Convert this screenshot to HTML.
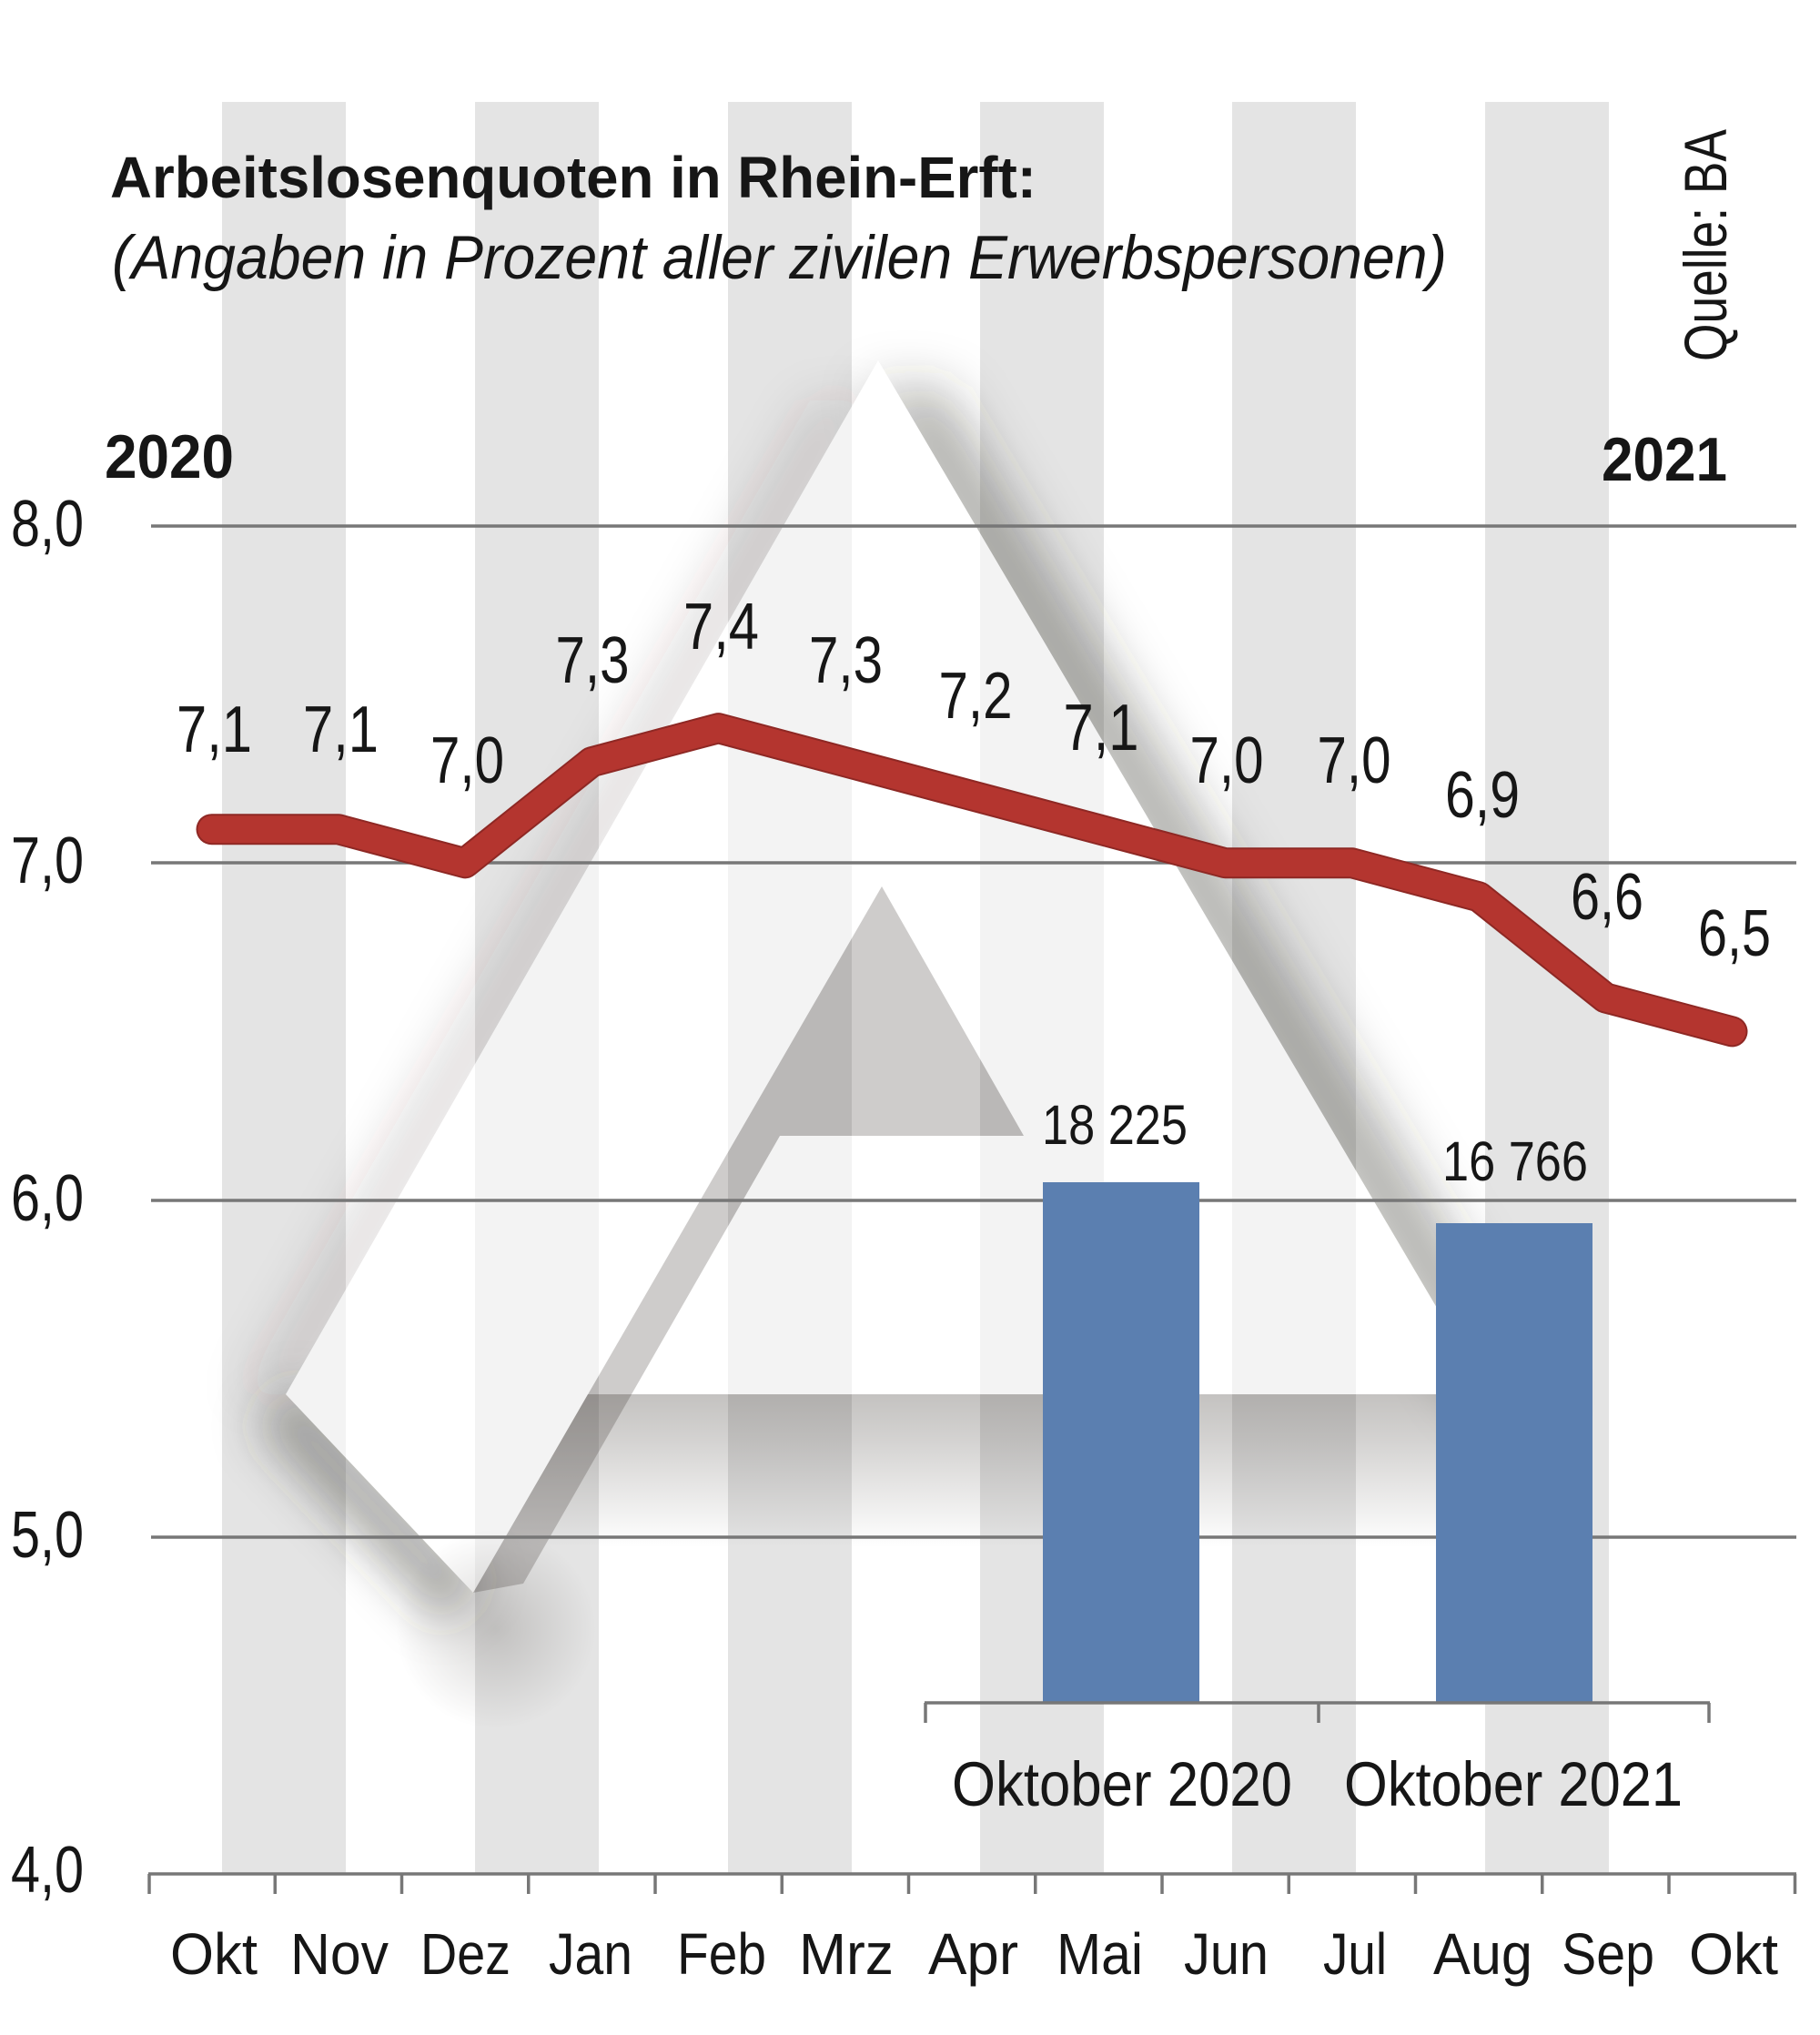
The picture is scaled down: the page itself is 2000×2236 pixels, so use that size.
<!DOCTYPE html>
<html>
<head>
<meta charset="utf-8">
<style>
  html,body{margin:0;padding:0;background:#fff;overflow:hidden;}
  svg{display:block;}
  text{font-family:"Liberation Sans",Arial,sans-serif;fill:#161616;}
</style>
</head>
<body>
<svg width="2000" height="2236" viewBox="0 0 2000 2236" xmlns="http://www.w3.org/2000/svg">
  <defs>
    <filter id="blur30" filterUnits="userSpaceOnUse" x="0" y="0" width="2000" height="2236">
      <feGaussianBlur stdDeviation="30"/>
    </filter>
    <filter id="blur25" filterUnits="userSpaceOnUse" x="0" y="0" width="2000" height="2236">
      <feGaussianBlur stdDeviation="25"/>
    </filter>
    <clipPath id="cOut">
      <path clip-rule="evenodd" d="M0,0H2000V2236H0Z M965,396 L1635,1532 L694,1532 L857,1248 L1125,1248 L969,974 L520,1750 L314,1532 Z"/>
    </clipPath>
    <linearGradient id="gBar" gradientUnits="userSpaceOnUse" x1="0" y1="1532" x2="0" y2="1700">
      <stop offset="0" stop-color="#3a342e" stop-opacity="0.30"/>
      <stop offset="0.3" stop-color="#3a342e" stop-opacity="0.22"/>
      <stop offset="1" stop-color="#3a342e" stop-opacity="0"/>
    </linearGradient>
    <radialGradient id="gTip" gradientUnits="userSpaceOnUse" cx="545" cy="1790" r="110">
      <stop offset="0" stop-color="#3a342e" stop-opacity="0.20"/>
      <stop offset="1" stop-color="#3a342e" stop-opacity="0"/>
    </radialGradient>
  </defs>

  <rect x="0" y="0" width="2000" height="2236" fill="#ffffff"/>

  <!-- stripes -->
  <g fill="#e4e4e4">
    <rect x="244" y="112" width="136" height="1946"/>
    <rect x="522" y="112" width="136" height="1946"/>
    <rect x="800" y="112" width="136" height="1946"/>
    <rect x="1077" y="112" width="136" height="1946"/>
    <rect x="1354" y="112" width="136" height="1946"/>
    <rect x="1632" y="112" width="136" height="1946"/>
  </g>

  <!-- logo: whitish A body -->
  <polygon points="965,396 1635,1532 694,1532 857,1248 1125,1248 969,974 520,1750 314,1532" fill="#ffffff" fill-opacity="0.55"/>

  <!-- logo shading (blurred, clipped to outside of the A) -->
  <g clip-path="url(#cOut)">
    <polygon points="955,430 1035,430 1700,1540 1620,1540" fill="#3a342e" fill-opacity="0.42" filter="url(#blur30)"/>
    <polygon points="890,440 960,440 334,1532 264,1532" fill="#3a342e" fill-opacity="0.15" filter="url(#blur25)"/>
    <polygon points="328,1518 534,1736 484,1784 278,1566" fill="#3a342e" fill-opacity="0.40" filter="url(#blur25)"/>
  </g>
  <circle cx="545" cy="1790" r="110" fill="url(#gTip)"/>
  <polygon points="646,1532 1640,1532 1640,1700 549,1700" fill="url(#gBar)"/>
  <polygon points="969,974 1125,1248 857,1248 694,1532 575,1740 520,1750" fill="#3a342e" fill-opacity="0.25"/>

  <!-- gridlines -->
  <g stroke="#777" stroke-width="3.5">
    <line x1="166" y1="578" x2="1974" y2="578"/>
    <line x1="166" y1="948" x2="1974" y2="948"/>
    <line x1="166" y1="1319" x2="1974" y2="1319"/>
    <line x1="166" y1="1689" x2="1974" y2="1689"/>
  </g>

  <!-- bars -->
  <rect x="1146" y="1299" width="172" height="572" fill="#5b7fb0"/>
  <rect x="1578" y="1344" width="172" height="527" fill="#5b7fb0"/>

  <!-- bar axis -->
  <g stroke="#777" stroke-width="3.5" fill="none">
    <line x1="1016" y1="1871" x2="1879" y2="1871"/>
    <line x1="1017" y1="1871" x2="1017" y2="1893"/>
    <line x1="1449" y1="1871" x2="1449" y2="1893"/>
    <line x1="1878" y1="1871" x2="1878" y2="1893"/>
  </g>

  <!-- x axis -->
  <g stroke="#777" stroke-width="3.5">
    <line x1="163" y1="2059" x2="1974" y2="2059"/>
    <line x1="164" y1="2059" x2="164" y2="2081"/>
    <line x1="302.25" y1="2059" x2="302.25" y2="2081"/>
    <line x1="441.5" y1="2059" x2="441.5" y2="2081"/>
    <line x1="580.75" y1="2059" x2="580.75" y2="2081"/>
    <line x1="720" y1="2059" x2="720" y2="2081"/>
    <line x1="859.25" y1="2059" x2="859.25" y2="2081"/>
    <line x1="998.5" y1="2059" x2="998.5" y2="2081"/>
    <line x1="1137.75" y1="2059" x2="1137.75" y2="2081"/>
    <line x1="1277" y1="2059" x2="1277" y2="2081"/>
    <line x1="1416.25" y1="2059" x2="1416.25" y2="2081"/>
    <line x1="1555.5" y1="2059" x2="1555.5" y2="2081"/>
    <line x1="1694.75" y1="2059" x2="1694.75" y2="2081"/>
    <line x1="1834" y1="2059" x2="1834" y2="2081"/>
    <line x1="1972.5" y1="2059" x2="1972.5" y2="2081"/>
  </g>

  <!-- red line -->
  <polyline points="232.5,911.2 371.75,911.2 511,948.25 650.25,837.2 789.5,800.15 928.75,837.2 1068,874.2 1207.25,911.2 1346.5,948.25 1485.75,948.25 1625,985.3 1764.25,1096.4 1903.5,1133.4"
    fill="none" stroke="#8e2824" stroke-width="34" stroke-linejoin="round" stroke-linecap="round"/>
  <polyline points="232.5,911.2 371.75,911.2 511,948.25 650.25,837.2 789.5,800.15 928.75,837.2 1068,874.2 1207.25,911.2 1346.5,948.25 1485.75,948.25 1625,985.3 1764.25,1096.4 1903.5,1133.4"
    fill="none" stroke="#b4352f" stroke-width="30" stroke-linejoin="round" stroke-linecap="round"/>

  <!-- title -->
  <text x="121" y="217" font-size="64" font-weight="bold" textLength="1018" lengthAdjust="spacingAndGlyphs">Arbeitslosenquoten in Rhein-Erft:</text>
  <text x="123" y="306" font-size="68" font-style="italic" textLength="1467" lengthAdjust="spacingAndGlyphs">(Angaben in Prozent aller zivilen Erwerbspersonen)</text>
  <text transform="translate(1897,397) rotate(-90)" font-size="66" textLength="255" lengthAdjust="spacingAndGlyphs">Quelle: BA</text>
  <text x="115" y="525" font-size="68" font-weight="bold" textLength="142" lengthAdjust="spacingAndGlyphs">2020</text>
  <text x="1760" y="528" font-size="68" font-weight="bold" textLength="138" lengthAdjust="spacingAndGlyphs">2021</text>

  <!-- y labels -->
  <g font-size="72">
    <text x="12" y="600" textLength="80" lengthAdjust="spacingAndGlyphs">8,0</text>
    <text x="12" y="970" textLength="80" lengthAdjust="spacingAndGlyphs">7,0</text>
    <text x="12" y="1341" textLength="80" lengthAdjust="spacingAndGlyphs">6,0</text>
    <text x="12" y="1711" textLength="80" lengthAdjust="spacingAndGlyphs">5,0</text>
    <text x="12" y="2079" textLength="80" lengthAdjust="spacingAndGlyphs">4,0</text>
  </g>

  <!-- data labels -->
  <g font-size="72" text-anchor="middle">
    <text x="235.5" y="826" textLength="83" lengthAdjust="spacingAndGlyphs">7,1</text>
    <text x="374.5" y="826" textLength="83" lengthAdjust="spacingAndGlyphs">7,1</text>
    <text x="513.5" y="860" textLength="81" lengthAdjust="spacingAndGlyphs">7,0</text>
    <text x="651" y="750" textLength="81" lengthAdjust="spacingAndGlyphs">7,3</text>
    <text x="792.5" y="713" textLength="83" lengthAdjust="spacingAndGlyphs">7,4</text>
    <text x="929.5" y="750" textLength="81" lengthAdjust="spacingAndGlyphs">7,3</text>
    <text x="1072" y="789" textLength="81" lengthAdjust="spacingAndGlyphs">7,2</text>
    <text x="1210" y="824" textLength="83" lengthAdjust="spacingAndGlyphs">7,1</text>
    <text x="1348" y="860" textLength="81" lengthAdjust="spacingAndGlyphs">7,0</text>
    <text x="1488" y="860" textLength="81" lengthAdjust="spacingAndGlyphs">7,0</text>
    <text x="1629" y="898" textLength="82" lengthAdjust="spacingAndGlyphs">6,9</text>
    <text x="1766" y="1010" textLength="80" lengthAdjust="spacingAndGlyphs">6,6</text>
    <text x="1906" y="1050" textLength="80" lengthAdjust="spacingAndGlyphs">6,5</text>
  </g>

  <!-- bar labels -->
  <text x="1225" y="1257" font-size="61" text-anchor="middle" textLength="160" lengthAdjust="spacingAndGlyphs">18 225</text>
  <text x="1665" y="1297" font-size="61" text-anchor="middle" textLength="160" lengthAdjust="spacingAndGlyphs">16 766</text>
  <text x="1046" y="1984" font-size="69" textLength="374" lengthAdjust="spacingAndGlyphs">Oktober 2020</text>
  <text x="1477" y="1984" font-size="69" textLength="372" lengthAdjust="spacingAndGlyphs">Oktober 2021</text>

  <!-- month labels -->
  <g font-size="64" text-anchor="middle">
    <text x="235" y="2169" textLength="96" lengthAdjust="spacingAndGlyphs">Okt</text>
    <text x="373" y="2169" textLength="108" lengthAdjust="spacingAndGlyphs">Nov</text>
    <text x="511.5" y="2169" textLength="99" lengthAdjust="spacingAndGlyphs">Dez</text>
    <text x="649" y="2169" textLength="92" lengthAdjust="spacingAndGlyphs">Jan</text>
    <text x="793" y="2169" textLength="98" lengthAdjust="spacingAndGlyphs">Feb</text>
    <text x="930" y="2169" textLength="104" lengthAdjust="spacingAndGlyphs">Mrz</text>
    <text x="1069.5" y="2169" textLength="99" lengthAdjust="spacingAndGlyphs">Apr</text>
    <text x="1208.5" y="2169" textLength="95" lengthAdjust="spacingAndGlyphs">Mai</text>
    <text x="1347.5" y="2169" textLength="93" lengthAdjust="spacingAndGlyphs">Jun</text>
    <text x="1489" y="2169" textLength="70" lengthAdjust="spacingAndGlyphs">Jul</text>
    <text x="1629.5" y="2169" textLength="109" lengthAdjust="spacingAndGlyphs">Aug</text>
    <text x="1767" y="2169" textLength="102" lengthAdjust="spacingAndGlyphs">Sep</text>
    <text x="1905" y="2169" textLength="98" lengthAdjust="spacingAndGlyphs">Okt</text>
  </g>
</svg>
</body>
</html>
